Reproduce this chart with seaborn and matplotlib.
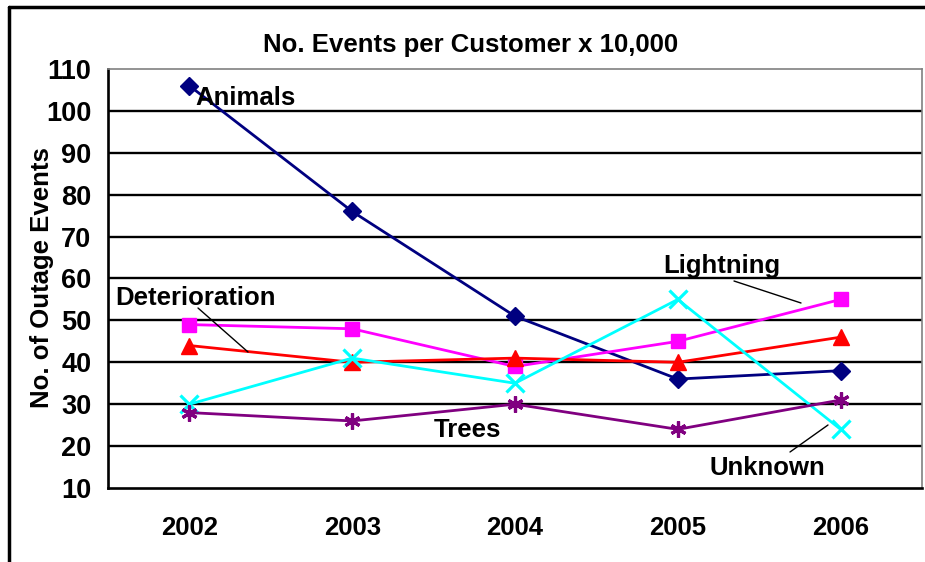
import matplotlib
matplotlib.use("Agg")
import matplotlib.pyplot as plt
import seaborn as sns
import pandas as pd
import numpy as np
from matplotlib.lines import Line2D

years = ["2002", "2003", "2004", "2005", "2006"]
animals = [106, 76, 51, 36, 38]
lightning = [49, 48, 39, 45, 55]
deterioration = [44, 40, 41, 40, 46]
unknown = [30, 41, 35, 55, 24]
trees = [28, 26, 30, 24, 31]

series_names = ["Animals", "Lightning", "Deterioration", "Unknown", "Trees"]
series_values = [animals, lightning, deterioration, unknown, trees]
colors = ["#000080", "#FF00FF", "#FF0000", "#00FFFF", "#800080"]
markers = ["D", "s", "^", "x", (6, 2, 0)]
msizes = [9.5, 10.5, 11, 12.5, 11.5]

y_ticks = list(range(10, 111, 10))

sns.set_theme(style="white")
plt.rcParams["font.family"] = ["Liberation Sans", "DejaVu Sans"]
plt.rcParams["font.weight"] = "bold"
for k in ("text.color", "axes.labelcolor", "xtick.color", "ytick.color"):
    plt.rcParams[k] = "black"

FS = 18.5

fig = plt.figure(figsize=(9.25, 5.62), dpi=100)
ax = fig.add_axes([108 / 925, 1 - 488 / 562, (922 - 108) / 925, (488 - 69) / 562])

frames = []
for name, vals in zip(series_names, series_values):
    frames.append(pd.DataFrame({"pos": np.arange(len(years)), "value": vals, "series": name}))
df = pd.concat(frames, ignore_index=True)

for name, col, mk, ms in zip(series_names, colors, markers, msizes):
    sub = df[df["series"] == name]
    sns.lineplot(data=sub, x="pos", y="value", ax=ax, color=col, linewidth=2.0,
                 marker=mk, markersize=ms, markeredgecolor=col, markerfacecolor=col,
                 markeredgewidth=2.3 if name in ("Unknown", "Trees") else 1,
                 legend=False, zorder=3)

ax.set_xlim(-0.5, len(years) - 0.5)
ax.set_ylim(10, 110)
ax.set_yticks(y_ticks)
ax.set_yticklabels([str(v) for v in y_ticks], fontsize=19.5, fontweight="bold")
ax.set_xticks(np.arange(len(years)))
ax.set_xticklabels(years, fontsize=FS, fontweight="bold")
ax.set_xticks(np.arange(-0.5, len(years), 1.0), minor=True)
ax.tick_params(axis="x", which="major", length=0, pad=20)
ax.tick_params(axis="x", which="minor", length=8, width=1.6, color="black", direction="out")
ax.tick_params(axis="y", which="major", length=8, width=1.6, color="black", direction="out", pad=4)
ax.set_xlabel("")
ax.set_ylabel("")

fig.text(42 / 925, 1 - 277.5 / 562, "No. of Outage Events", rotation=90, fontsize=FS,
         fontweight="bold", ha="center", va="center")

for v in y_ticks[1:-1]:
    ax.axhline(v, color="black", linewidth=1.7, zorder=1)

for side in ("left", "bottom"):
    ax.spines[side].set_color("black")
    ax.spines[side].set_linewidth(1.9)
for side in ("top", "right"):
    ax.spines[side].set_color("#808080")
    ax.spines[side].set_linewidth(1.2)

fig.text(471 / 925, 1 - 52 / 562, "No. Events per Customer x 10,000", fontsize=FS,
         fontweight="bold", ha="center", va="baseline")

# annotations
ax.text(0.034, 101.4, "Animals", fontsize=FS, fontweight="bold", va="baseline", ha="left")
ax.text(3.27, 61.3, "Lightning", fontsize=FS, fontweight="bold", va="baseline", ha="center")
ax.text(0.04, 53.7, "Deterioration", fontsize=FS, fontweight="bold", va="baseline", ha="center")
ax.text(1.705, 22.2, "Trees", fontsize=FS, fontweight="bold", va="baseline", ha="center")
ax.text(3.55, 13.1, "Unknown", fontsize=FS, fontweight="bold", va="baseline", ha="center")

def px2data(px, py):
    inv = ax.transData.inverted()
    return inv.transform(fig.transFigure.transform((px / 925, 1 - py / 562)))

for (x0, y0, x1, y1) in [(734, 281, 801, 303), (198, 308, 248, 352), (790, 452, 828, 425)]:
    a = px2data(x0, y0)
    b = px2data(x1, y1)
    ax.plot([a[0], b[0]], [a[1], b[1]], color="black", linewidth=1.0, zorder=4)

# figure border (left and top)
fig.add_artist(Line2D([9 / 925, 9 / 925], [0, 1 - 7 / 562], transform=fig.transFigure, color="black", linewidth=2.5))
fig.add_artist(Line2D([9 / 925, 1], [1 - 7 / 562, 1 - 7 / 562], transform=fig.transFigure, color="black", linewidth=2.5))

fig.savefig("out.png", dpi=100, facecolor="white")
